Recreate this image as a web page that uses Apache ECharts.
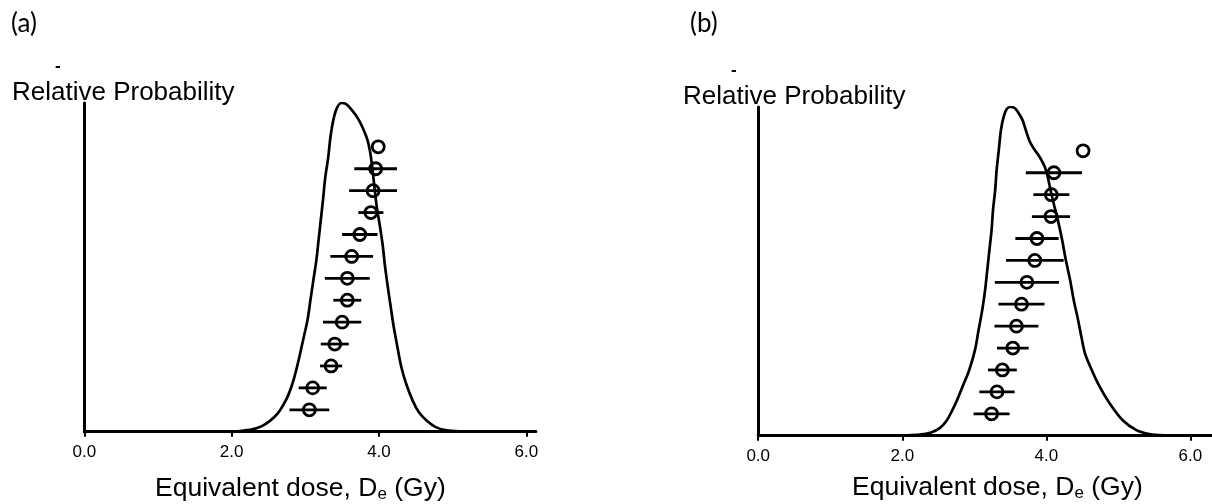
<!DOCTYPE html>
<html>
<head>
<meta charset="utf-8">
<title>Equivalent dose distributions</title>
<script src="https://cdn.jsdelivr.net/npm/echarts@6/dist/echarts.min.js"></script>
<style>
  html, body { margin: 0; padding: 0; background: #fff; }
  #chart { width: 1212px; height: 504px; }
</style>
</head>
<body>
<div id="chart"></div>
<script>
// Dose axis ticks (Gy)
const doseTickValues = [0, 2, 4, 6];
const doseTickLabels = ['0.0', '2.0', '4.0', '6.0'];

// Panel (a): relative probability density of the equivalent dose
const densityDoseA = [1.91, 2.11, 2.28, 2.41, 2.52, 2.62, 2.70, 2.77, 2.84, 2.91,
                      2.97, 3.03, 3.07, 3.11, 3.15, 3.18, 3.21, 3.24, 3.27, 3.31,
                      3.34, 3.38, 3.43, 3.49, 3.55, 3.63, 3.72, 3.78, 3.84, 3.88,
                      3.91, 3.94, 3.97, 4.01, 4.05, 4.08, 4.12, 4.16, 4.20, 4.25,
                      4.30, 4.37, 4.46, 4.54, 4.65, 4.77, 4.92, 5.13, 5.37];
const densityProbA = [0, 0.002, 0.007, 0.017, 0.033, 0.054, 0.081, 0.112, 0.157, 0.218,
                      0.279, 0.340, 0.401, 0.462, 0.522, 0.583, 0.644, 0.705, 0.772, 0.833,
                      0.894, 0.948, 0.985, 1.0, 0.997, 0.979, 0.951, 0.924, 0.890, 0.851,
                      0.802, 0.741, 0.684, 0.629, 0.568, 0.507, 0.440, 0.379, 0.319, 0.258,
                      0.200, 0.145, 0.093, 0.060, 0.033, 0.014, 0.004, 0.001, 0];

// Panel (a): individual aliquot De values and 1-sigma errors, ranked top to bottom
const aliquotRankA = [13, 12, 11, 10, 9, 8, 7, 6, 5, 4, 3, 2, 1];
const aliquotDeA   = [3.99, 3.955, 3.92, 3.89, 3.74, 3.63, 3.57, 3.57, 3.50, 3.40, 3.35, 3.10, 3.055];
const aliquotErrA  = [0, 0.29, 0.325, 0.17, 0.24, 0.29, 0.305, 0.19, 0.26, 0.19, 0.15, 0.19, 0.27];

// Panel (b): relative probability density of the equivalent dose
const densityDoseB = [1.69, 2.04, 2.24, 2.40, 2.52, 2.61, 2.68, 2.76, 2.84, 2.93,
                      3.01, 3.06, 3.11, 3.15, 3.18, 3.21, 3.24, 3.26, 3.29, 3.31,
                      3.34, 3.37, 3.41, 3.45, 3.50, 3.56, 3.61, 3.67, 3.71, 3.77,
                      3.83, 3.89, 3.94, 3.98, 4.02, 4.05, 4.10, 4.16, 4.22, 4.27,
                      4.33, 4.38, 4.44, 4.49, 4.54, 4.63, 4.74, 4.88, 5.06, 5.25,
                      5.43, 5.64, 5.99];
const densityProbB = [0, 0.001, 0.003, 0.010, 0.023, 0.044, 0.071, 0.108, 0.151, 0.200,
                      0.261, 0.322, 0.382, 0.443, 0.504, 0.565, 0.626, 0.687, 0.747, 0.808,
                      0.869, 0.930, 0.972, 0.994, 1.0, 0.997, 0.983, 0.960, 0.933, 0.895,
                      0.872, 0.854, 0.835, 0.817, 0.787, 0.756, 0.708, 0.656, 0.595, 0.535,
                      0.474, 0.413, 0.353, 0.297, 0.248, 0.200, 0.149, 0.098, 0.047, 0.017,
                      0.005, 0.001, 0];

// Panel (b): individual aliquot De values and 1-sigma errors, ranked top to bottom
const aliquotRankB = [13, 12, 11, 10, 9, 8, 7, 6, 5, 4, 3, 2, 1];
const aliquotDeB   = [4.51, 4.105, 4.07, 4.065, 3.87, 3.84, 3.73, 3.655, 3.585, 3.535, 3.39, 3.315, 3.24];
const aliquotErrB  = [0, 0.39, 0.25, 0.265, 0.30, 0.40, 0.445, 0.32, 0.305, 0.22, 0.20, 0.245, 0.25];

const panelLetters = ['(a)', '(b)'];
const yAxisTitle = 'Relative Probability';

const FONT = "'Liberation Sans', Arial, sans-serif";
const INK = '#000';

function zip(xs, ys) { return xs.map((x, i) => [x, ys[i]]); }

function errorBarData(de, err, rank) {
  const out = [];
  de.forEach((d, i) => { if (err[i] > 0) out.push([d - err[i], d + err[i], rank[i]]); });
  return out;
}

function renderErrorBar(params, api) {
  const p1 = api.coord([api.value(0), api.value(2)]);
  const p2 = api.coord([api.value(1), api.value(2)]);
  return {
    type: 'line',
    shape: { x1: p1[0], y1: p1[1], x2: p2[0], y2: p2[1] },
    style: { stroke: INK, lineWidth: 2.8 }
  };
}

function doseAxis(gridIndex, max) {
  return {
    type: 'value', gridIndex, min: 0, max,
    axisLine: { show: true, onZero: false, lineStyle: { color: INK, width: 3 } },
    axisTick: { show: true, customValues: doseTickValues, length: 5, lineStyle: { color: INK, width: 2 } },
    axisLabel: {
      customValues: doseTickValues, margin: 12, fontSize: 17, color: INK, fontFamily: FONT,
      formatter: v => doseTickLabels[doseTickValues.indexOf(v)]
    },
    splitLine: { show: false }
  };
}

function probAxis(gridIndex) {
  return {
    type: 'value', gridIndex, min: 0, max: 1,
    axisLine: { show: true, onZero: false, lineStyle: { color: INK, width: 3 } },
    axisTick: { show: false }, axisLabel: { show: false }, splitLine: { show: false }
  };
}

function rankAxis(gridIndex) {
  return { type: 'value', gridIndex, min: 0, max: 15, show: false, splitLine: { show: false } };
}

function panelSeries(xi, yProb, yRank, dDose, dProb, de, err, rank) {
  return [
    {
      type: 'line', xAxisIndex: xi, yAxisIndex: yProb, data: zip(dDose, dProb),
      smooth: 0.3, showSymbol: false, silent: true,
      lineStyle: { color: INK, width: 2.7 }, z: 2
    },
    {
      type: 'custom', xAxisIndex: xi, yAxisIndex: yRank, data: errorBarData(de, err, rank),
      encode: { x: [0, 1], y: 2 }, renderItem: renderErrorBar, silent: true, z: 3
    },
    {
      type: 'scatter', xAxisIndex: xi, yAxisIndex: yRank, data: zip(de, rank),
      symbol: 'circle', symbolSize: 12, silent: true, z: 4,
      itemStyle: { color: 'rgba(0,0,0,0)', borderColor: INK, borderWidth: 2.8, opacity: 1 }
    }
  ];
}

function titleText(x, y) {
  return {
    type: 'text', x, y,
    style: {
      text: 'Equivalent dose, D{sub|e} (Gy)',
      font: '26.5px ' + FONT, fill: INK, align: 'left', verticalAlign: 'middle', lineHeight: 28,
      rich: { sub: { fontSize: 17, fontFamily: FONT, fill: INK, verticalAlign: 'bottom', lineHeight: 16 } }
    }
  };
}

function plainText(text, x, y, font) {
  return { type: 'text', x, y, style: { text, font, fill: INK, align: 'left', verticalAlign: 'middle' } };
}

const chart = echarts.init(document.getElementById('chart'), null, { renderer: 'canvas' });
chart.setOption({
  animation: false,
  backgroundColor: '#fff',
  grid: [
    { left: 84.3, top: 103, width: 451.6, height: 328.7 },
    { left: 758.2, top: 107, width: 454.2, height: 328.7 }
  ],
  xAxis: [doseAxis(0, 6.13), doseAxis(1, 6.3)],
  yAxis: [probAxis(0), rankAxis(0), probAxis(1), rankAxis(1)],
  series: [
    ...panelSeries(0, 0, 1, densityDoseA, densityProbA, aliquotDeA, aliquotErrA, aliquotRankA),
    ...panelSeries(1, 2, 3, densityDoseB, densityProbB, aliquotDeB, aliquotErrB, aliquotRankB)
  ],
  graphic: [
    plainText(panelLetters[0], 11, 24, "26px Lato, 'Open Sans', sans-serif"),
    plainText(panelLetters[1], 690, 24, "26px Lato, 'Open Sans', sans-serif"),
    plainText('-', 55, 66, 'bold 17px ' + FONT),
    plainText('-', 731, 70, 'bold 17px ' + FONT),
    plainText(yAxisTitle, 12, 93, '26px ' + FONT),
    plainText(yAxisTitle, 683, 96.5, '26px ' + FONT),
    titleText(155, 489),
    titleText(852, 488)
  ]
});
</script>
</body>
</html>
